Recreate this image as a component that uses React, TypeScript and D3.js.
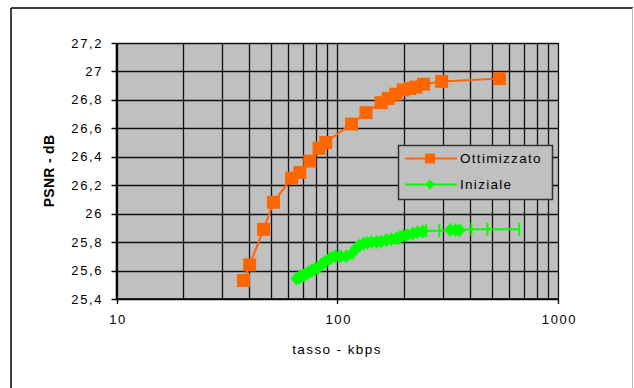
import React from 'react';
import * as d3 from 'd3';

// Ottimizzato series (rate kbps, PSNR dB)
const ottRate = [37.6, 40.1, 46.4, 51.4, 62.1, 67.7, 75.1, 82.7, 88.7, 116, 135, 158, 170, 184, 199, 213, 227, 246, 297, 543];
const ottPsnr = [25.53, 25.64, 25.89, 26.08, 26.25, 26.29, 26.37, 26.46, 26.5, 26.63, 26.71, 26.78, 26.81, 26.84, 26.87, 26.88, 26.89, 26.91, 26.93, 26.95];

// Iniziale series
const iniRate = [65.4, 67, 68.5, 70, 71.3, 73, 74.5, 76.6, 79, 81.8, 85, 87.7, 91.7, 94, 97.8, 103.3, 110, 116.6, 122, 126, 131.5, 137, 142.8, 151, 158, 167, 176, 185, 192, 198.5, 208, 220, 231, 244, 253, 290, 325, 343, 358, 405, 479, 667];
const iniPsnr = [25.545, 25.55, 25.56, 25.565, 25.57, 25.58, 25.59, 25.6, 25.61, 25.62, 25.645, 25.66, 25.68, 25.69, 25.7, 25.7, 25.7, 25.72, 25.76, 25.775, 25.79, 25.795, 25.8, 25.8, 25.805, 25.815, 25.82, 25.825, 25.835, 25.845, 25.85, 25.86, 25.87, 25.875, 25.88, 25.88, 25.885, 25.885, 25.885, 25.89, 25.89, 25.89];

const yTicks = [25.4, 25.6, 25.8, 26, 26.2, 26.4, 26.6, 26.8, 27, 27.2];
const xTicks = [10, 100, 1000];
const seriesNames = ['Ottimizzato', 'Iniziale'];

const W = 634;
const H = 388;
const ORANGE = '#FF6600';
const GREEN = '#00FF00';
const FONT = '"Liberation Sans", Arial, sans-serif';

export default function App() {
  const x = d3.scaleLog().domain([10, 1000]).range([116.5, 558]);
  const y = d3.scaleLinear().domain([25.4, 27.2]).range([299, 43]);

  const ott = ottRate.map((r, i) => [x(r), y(ottPsnr[i])] as [number, number]);
  const ini = iniRate.map((r, i) => [x(r), y(iniPsnr[i])] as [number, number]);
  const line = d3.line();

  // the tail of the green series shows up as bar markers in the original
  const barIdx = new Set([34, 35, 39, 40, 41]);

  const diamond = (cx: number, cy: number, s = 1) =>
    `M${cx},${cy - 7 * s}L${cx + 6 * s},${cy}L${cx},${cy + 7 * s}L${cx - 6 * s},${cy}Z`;

  const [x0, x1] = x.range();
  const [yb, yt] = y.range();
  const lg = { x: 398.5, y: 145.5, w: 154, h: 54 };

  return (
    <svg width={W} height={H} style={{ position: 'absolute', left: 0, top: 0, background: '#fff' }}>
      {/* chart frame */}
      <line x1={11} y1={8} x2={11} y2={H} stroke="#000" strokeWidth={1.5} />
      <line x1={11} y1={8} x2={633} y2={8} stroke="#000" strokeWidth={1.5} />
      <line x1={632.5} y1={8} x2={632.5} y2={H} stroke="#bbb" strokeWidth={1} />

      {/* plot area */}
      <rect x={x0} y={yt} width={x1 - x0} height={yb - yt} fill="#C0C0C0" />
      {x.ticks().map((t, i) => (
        <line key={'v' + i} x1={Math.round(x(t)) + 0.5} x2={Math.round(x(t)) + 0.5} y1={yt} y2={yb} stroke="#111" strokeWidth={1.3} />
      ))}
      {yTicks.map((t, i) => (
        <line key={'h' + i} x1={x0 - 5} x2={x1} y1={Math.round(y(t)) + 0.5} y2={Math.round(y(t)) + 0.5} stroke="#111" strokeWidth={1.3} />
      ))}
      <line x1={x0} x2={x0} y1={yt} y2={yb} stroke="#000" strokeWidth={1.6} />
      <line x1={x0} x2={x1} y1={yb} y2={yb} stroke="#000" strokeWidth={1.6} />
      {xTicks.map((t, i) => (
        <line key={'xt' + i} x1={Math.round(x(t)) + 0.5} x2={Math.round(x(t)) + 0.5} y1={yb} y2={yb + 5} stroke="#000" strokeWidth={1.3} />
      ))}

      {/* tick labels */}
      {yTicks.map((t, i) => (
        <text key={'yl' + i} x={103} y={y(t) + 4.5} textAnchor="end" fontFamily={FONT} fontSize={13} letterSpacing={1.6} fill="#000">
          {String(t).replace('.', ',')}
        </text>
      ))}
      {xTicks.map((t, i) => (
        <text key={'xl' + i} x={x(t) + 1.5} y={323.5} textAnchor="middle" fontFamily={FONT} fontSize={13} letterSpacing={1.6} fill="#000">
          {t}
        </text>
      ))}

      {/* axis titles */}
      <text x={337} y={354} textAnchor="middle" fontFamily={FONT} fontSize={13.5} letterSpacing={1.4} fill="#000">tasso - kbps</text>
      <text transform={`translate(54,${(yt + yb) / 2}) rotate(-90)`} textAnchor="middle" fontFamily={FONT} fontSize={14} fontWeight="bold" letterSpacing={0.3} fill="#000">PSNR - dB</text>

      {/* Iniziale */}
      <path d={line(ini) || ''} fill="none" stroke={GREEN} strokeWidth={2} />
      {ini.map(([cx, cy], i) =>
        barIdx.has(i) ? (
          <rect key={'ib' + i} x={cx - 1} y={cy - 6.5} width={2} height={13} fill={GREEN} />
        ) : (
          <path key={'id' + i} d={diamond(cx, cy)} fill={GREEN} />
        )
      )}

      {/* Ottimizzato */}
      <path d={line(ott) || ''} fill="none" stroke={ORANGE} strokeWidth={2} />
      {ott.map(([cx, cy], i) => (
        <rect key={'o' + i} x={cx - 6.5} y={cy - 6.5} width={13} height={13} fill={ORANGE} />
      ))}

      {/* legend */}
      <rect x={lg.x} y={lg.y} width={lg.w} height={lg.h} fill="#C0C0C0" stroke="#333" strokeWidth={1.5} />
      <line x1={405} x2={457} y1={158.5} y2={158.5} stroke={ORANGE} strokeWidth={2} />
      <rect x={425} y={153.5} width={10} height={10} fill={ORANGE} />
      <text x={460} y={163} fontFamily={FONT} fontSize={13.5} letterSpacing={1.3} fill="#000">{seriesNames[0]}</text>
      <line x1={405} x2={457} y1={184.5} y2={184.5} stroke={GREEN} strokeWidth={2} />
      <path d={diamond(430, 184.5, 0.75)} fill={GREEN} />
      <text x={460} y={189} fontFamily={FONT} fontSize={13.5} letterSpacing={1.3} fill="#000">{seriesNames[1]}</text>
    </svg>
  );
}
